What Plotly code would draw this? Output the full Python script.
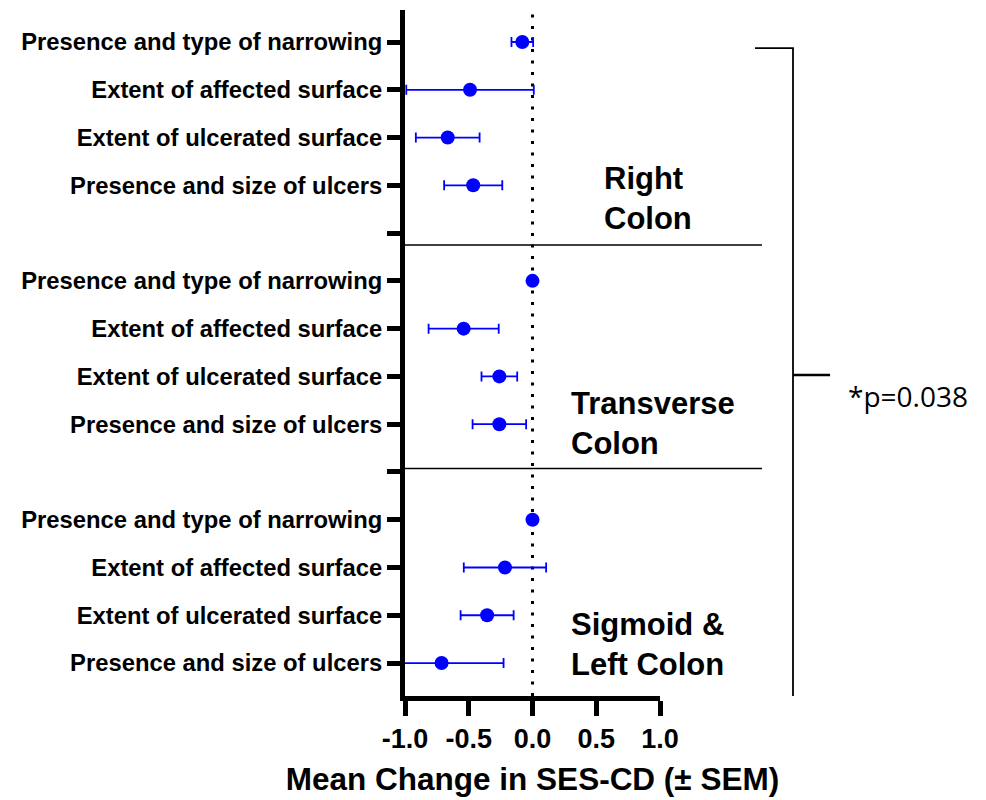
import plotly.graph_objects as go

# ---- data ----
row_labels = [
    "Presence and type of narrowing", "Extent of affected surface",
    "Extent of ulcerated surface", "Presence and size of ulcers", "",
    "Presence and type of narrowing", "Extent of affected surface",
    "Extent of ulcerated surface", "Presence and size of ulcers", "",
    "Presence and type of narrowing", "Extent of affected surface",
    "Extent of ulcerated surface", "Presence and size of ulcers",
]
row_pos = list(range(14))

point_pos = [0, 1, 2, 3, 5, 6, 7, 8, 10, 11, 12, 13]
mean_change = [-0.08, -0.49, -0.665, -0.465,
               0.0, -0.54, -0.26, -0.26,
               0.0, -0.216, -0.356, -0.713]
sem = [0.085, 0.50, 0.25, 0.228,
       0.0, 0.275, 0.14, 0.21,
       0.0, 0.323, 0.208, 0.486]

x_ticks = [-1.0, -0.5, 0.0, 0.5, 1.0]
x_ticktext = ["-1.0", "-0.5", "0.0", "0.5", "1.0"]

region_names = ["Right<br>Colon", "Transverse<br>Colon", "Sigmoid &<br>Left Colon"]
region_y = [3.28, 7.99, 12.61]
region_x = [0.772, 0.643, 0.643]
separator_y = [4.25, 8.93]
p_text = "*p=0.038"

FONT = "Liberation Sans, Arial, sans-serif"

fig = go.Figure()
fig.add_trace(go.Scatter(
    x=mean_change, y=point_pos, mode="markers",
    marker=dict(color="#0000FF", size=14),
    error_x=dict(type="data", array=sem, color="#0000FF", thickness=1.8, width=5),
    showlegend=False,
))

shapes = []
# dotted zero line
shapes.append(dict(type="line", xref="x", yref="paper", x0=0, x1=0, y0=0, y1=1,
                   line=dict(color="black", width=3, dash="3px,8.5px"), layer="below"))
for sy in separator_y:
    shapes.append(dict(type="line", xref="paper", yref="y", x0=0, x1=1.4, y0=sy, y1=sy,
                       line=dict(color="black", width=1.5)))
# bracket
bx0, bx1, bx2 = 1.3725, 1.5216, 1.667
by0, by1, bym = 0.126, 13.71, 6.97
shapes.append(dict(type="path", xref="paper", yref="y",
                   path=f"M {bx0},{by0} L {bx1},{by0} L {bx1},{by1} L {bx0},{by1}",
                   line=dict(color="black", width=1.8)))
shapes.append(dict(type="line", xref="paper", yref="y", x0=bx1, x1=bx2, y0=bym, y1=bym,
                   line=dict(color="black", width=2.5)))

annotations = []
for name, ry, rx in zip(region_names, region_y, region_x):
    annotations.append(dict(text=name, x=rx, y=ry, xref="paper", yref="y",
                            xanchor="left", yanchor="middle", showarrow=False, align="left",
                            font=dict(family=FONT, size=31, color="black", weight="bold")))
annotations.append(dict(text=p_text, x=1.73, y=7.42, xref="paper", yref="y",
                        xanchor="left", yanchor="middle", showarrow=False,
                        font=dict(family="Open Sans, Noto Sans, sans-serif", size=28, color="black")))

fig.update_layout(
    width=986, height=800,
    margin=dict(l=397, r=334, t=2, b=112),
    plot_bgcolor="white", paper_bgcolor="white",
    shapes=shapes, annotations=annotations,
    font=dict(family=FONT, color="black"),
    xaxis=dict(range=[-1, 1], tickvals=x_ticks, ticktext=x_ticktext,
               showgrid=False, zeroline=False, showline=True, linecolor="black", linewidth=5,
               ticks="outside", ticklen=15, tickwidth=5, tickcolor="black",
               tickfont=dict(family=FONT, size=27, color="black", weight="bold"),
               title=dict(text="Mean Change in SES-CD (± SEM)",
                          font=dict(family=FONT, size=31.5, color="black", weight="bold"),
                          standoff=16)),
    yaxis=dict(range=[13.69, -0.67], tickvals=row_pos, ticktext=row_labels,
               showgrid=False, zeroline=False, showline=True, linecolor="black", linewidth=5,
               ticks="outside", ticklen=13, tickwidth=5, tickcolor="black",
               tickfont=dict(family=FONT, size=23.8, color="black", weight="bold")),
)

fig.write_html("out.html")
